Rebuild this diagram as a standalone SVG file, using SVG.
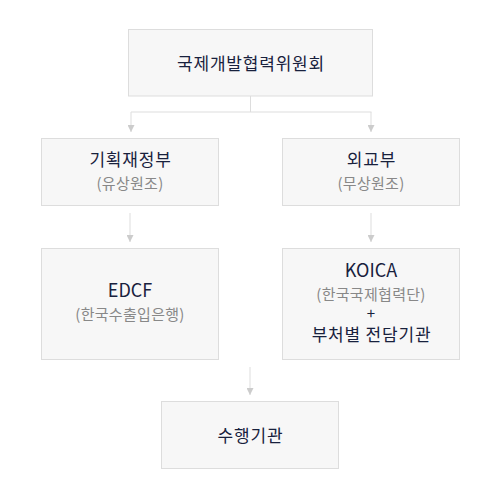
<svg xmlns="http://www.w3.org/2000/svg" width="504" height="496" viewBox="0 0 504 496">
<style>
.box{fill:#f7f7f7;stroke:#dddddd;stroke-width:1}
.t{font-family:"Noto Sans CJK KR","Noto Sans",sans-serif;font-size:17px;letter-spacing:0.8px;fill:#18213d;text-anchor:middle}
.l{font-family:"Noto Sans CJK KR","Noto Sans",sans-serif;font-size:18px;fill:#18213d;text-anchor:middle}
.s{font-family:"Noto Sans CJK KR","Noto Sans",sans-serif;font-size:15px;letter-spacing:0.3px;fill:#888888;text-anchor:middle}
.p{font-family:"Noto Sans CJK KR","Noto Sans",sans-serif;font-size:15px;fill:#18213d;text-anchor:middle}
.ln{stroke:#dddddd;stroke-width:1;fill:none}
.ah{fill:#cccccc}
</style>
<defs>
<marker id="arr" markerWidth="8" markerHeight="7" refX="7" refY="3.5" orient="auto" markerUnits="userSpaceOnUse">
<path class="ah" d="M0,0 L7,3.5 L0,7 Z"/>
</marker>
</defs>
<rect width="504" height="496" fill="#ffffff"/>
<g id="connectors">
<path class="ln" d="M250.5,96 V112 M131,112 H371.5" />
<path class="ln" d="M131,112 V132" marker-end="url(#arr)"/>
<path class="ln" d="M371,112 V132" marker-end="url(#arr)"/>
<path class="ln" d="M130,213 V242" marker-end="url(#arr)"/>
<path class="ln" d="M371,213 V242" marker-end="url(#arr)"/>
<path class="ln" d="M250,367 V395" marker-end="url(#arr)"/>
</g>
<g id="committee">
<rect class="box" x="128.5" y="29.5" width="244" height="66.5"/>
<text class="t" x="251" y="70">국제개발협력위원회</text>
</g>
<g id="mosf">
<rect class="box" x="41.5" y="138.5" width="177" height="67"/>
<text class="t" x="130.5" y="166">기획재정부</text>
<text class="s" x="130" y="189">(유상원조)</text>
</g>
<g id="mofa">
<rect class="box" x="282.5" y="138.5" width="177" height="67"/>
<text class="t" x="371.5" y="166">외교부</text>
<text class="s" x="371" y="189">(무상원조)</text>
</g>
<g id="edcf">
<rect class="box" x="41.5" y="248.5" width="177" height="111"/>
<text class="l" x="130" y="297">EDCF</text>
<text class="s" x="130" y="320">(한국수출입은행)</text>
</g>
<g id="koica">
<rect class="box" x="282.5" y="248.5" width="177" height="111"/>
<text class="l" x="371" y="277">KOICA</text>
<text class="s" x="371" y="300">(한국국제협력단)</text>
<text class="p" x="371" y="319">+</text>
<text class="t" x="371.5" y="341">부처별 전담기관</text>
</g>
<g id="agency">
<rect class="box" x="161.5" y="401.5" width="177" height="67"/>
<text class="t" x="250.5" y="442">수행기관</text>
</g>
</svg>
